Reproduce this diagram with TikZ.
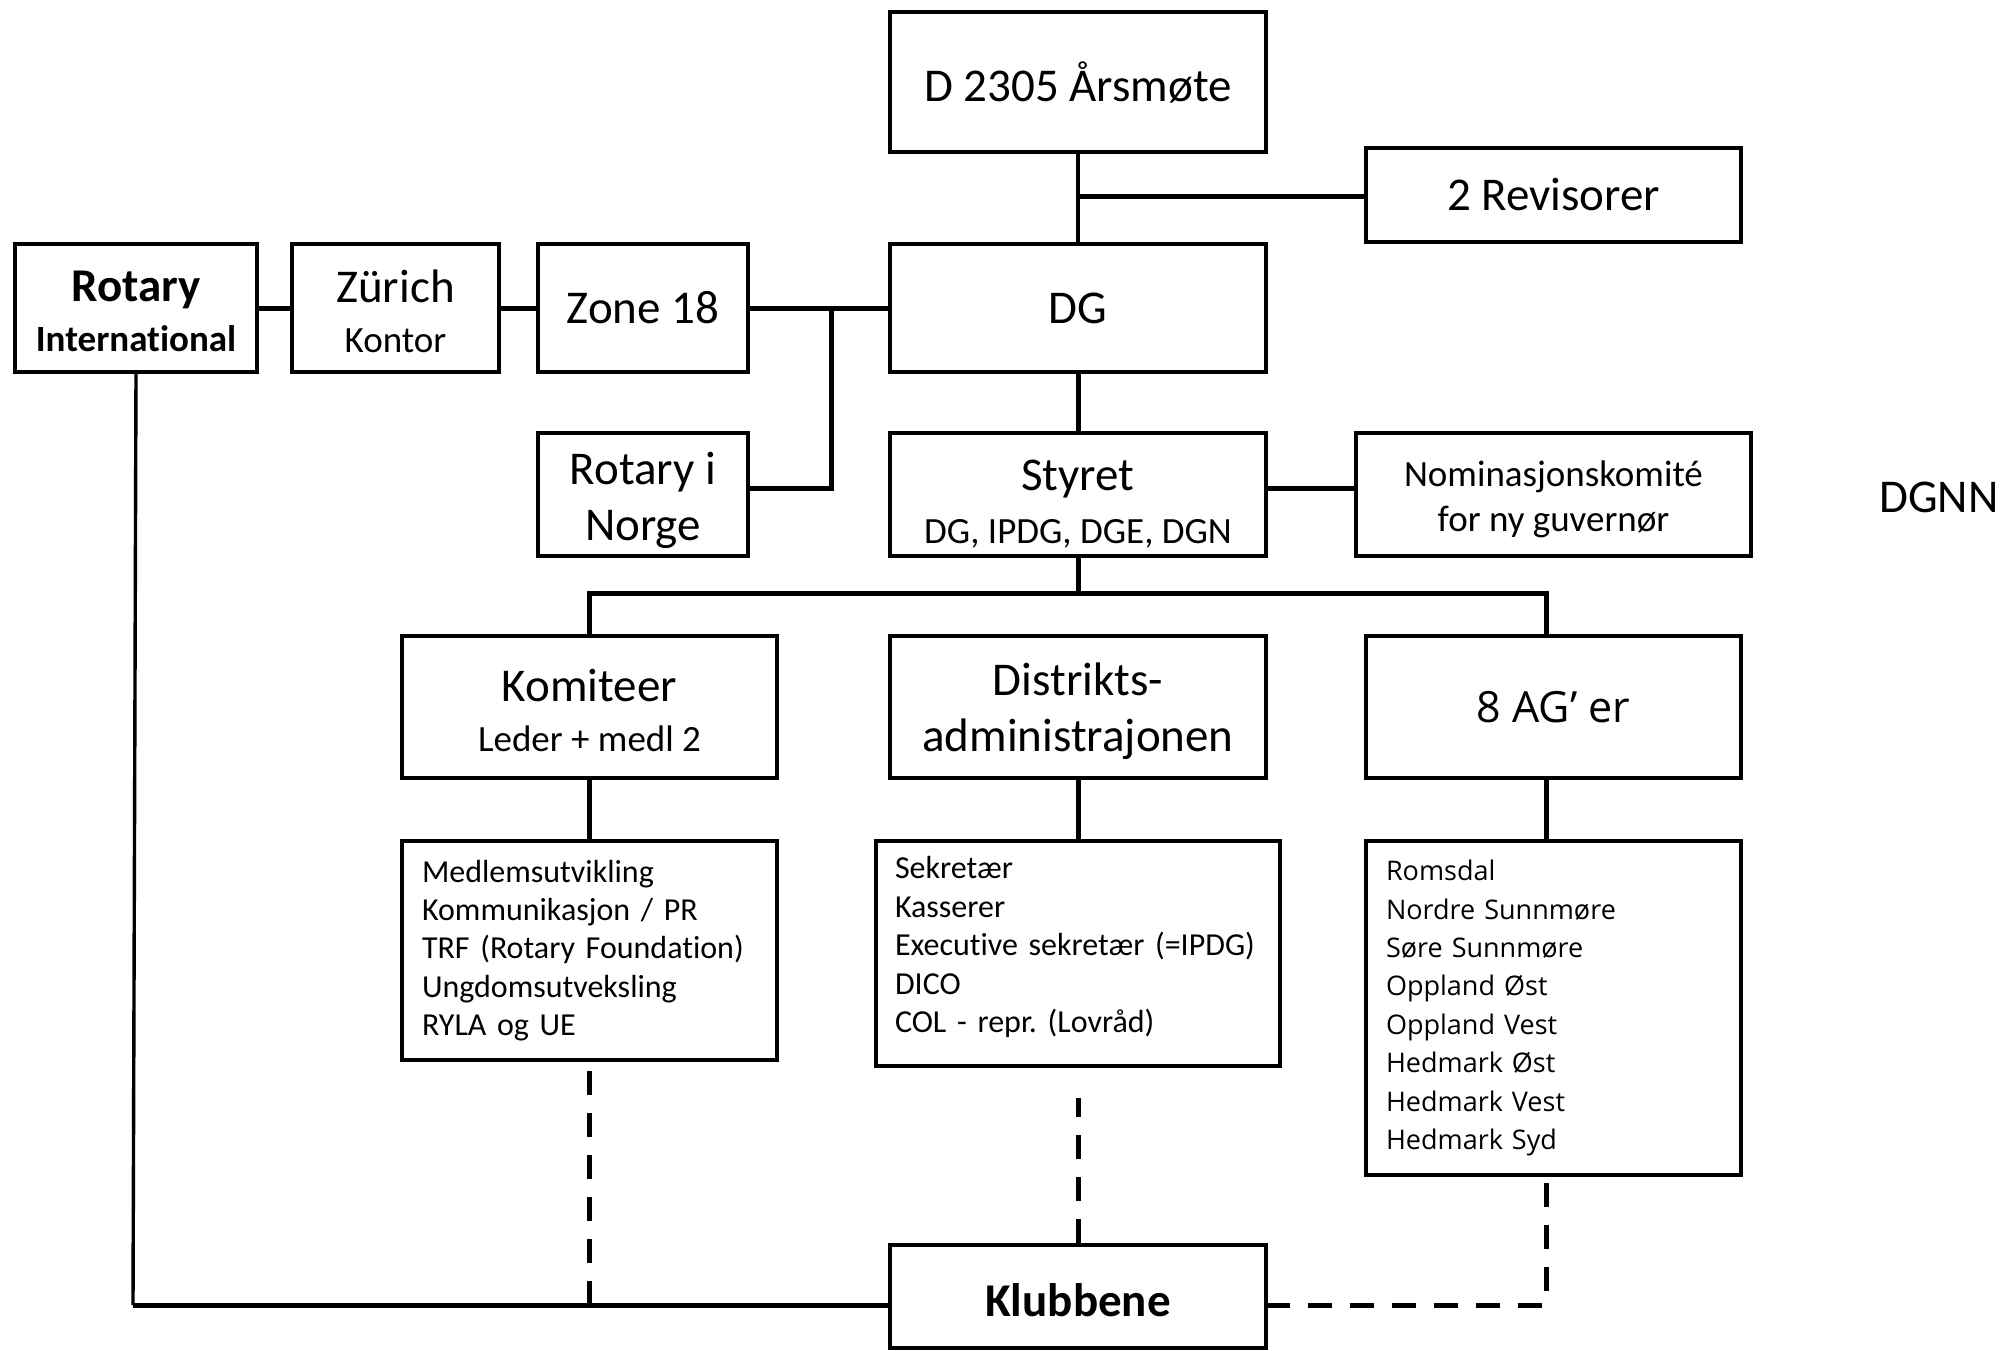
\documentclass[tikz,border=0pt]{standalone}
\usepackage{fontspec}
\setmainfont[Ligatures=NoCommon]{Carlito}
\newfontfamily\segoe{Open Sans}
\newcommand\fbig{\fontsize{47}{56}\selectfont}
\newcommand\fsmall{\fontsize{37}{45}\selectfont}
\newcommand\flist{\fontsize{32}{38.4}\selectfont}
\newcommand\strt[1]{\rule{0pt}{#1pt}}
\frenchspacing
\begin{document}
\begin{tikzpicture}[x=1pt,y=-1pt,
  box/.style={draw, line width=3.4pt, inner sep=0pt, align=center},
  listbox/.style={draw, line width=3.4pt, inner ysep=0pt, inner xsep=20pt, align=left},
  conn/.style={line width=5pt},
  thinconn/.style={line width=3.4pt},
  dconn/.style={line width=5pt, dash pattern=on 24pt off 18pt}
]
\useasboundingbox (0,0) rectangle (2007,1351);

% top row
\node[box, minimum width=376, minimum height=140, font=\fbig] (ars) at (1078,82) {D 2305 Årsmøte};
\node[box, minimum width=375, minimum height=94, font=\fbig] (rev) at (1553.5,195) {2 Revisorer};
\node[box, minimum width=376, minimum height=128, font=\fbig] (dg) at (1078,308) {DG};
\node[box, minimum width=242, minimum height=128, font=\fontsize{37}{50}\selectfont\bfseries] (ri) at (136,308)
  {{\fontsize{47}{50}\selectfont\strt{38}Rotary}\\International};
\node[box, minimum width=207, minimum height=128, font=\fontsize{37}{50}\selectfont] (zur) at (395.5,308)
  {{\fontsize{47}{50}\selectfont\strt{40}Zürich}\\Kontor};
\node[box, minimum width=210, minimum height=128, font=\fbig] (zone) at (643,308) {Zone 18};
\node[box, minimum width=210, minimum height=123, font=\fbig] (rin) at (643,494.5) {\strt{44}Rotary i\\Norge};
\node[box, minimum width=376, minimum height=123, font=\fontsize{37}{53}\selectfont] (sty) at (1078,494.5)
  {{\fontsize{47}{53}\selectfont\strt{50}Styret}\\DG, IPDG, DGE, DGN};
\node[box, minimum width=395, minimum height=123, font=\fsmall] (nom) at (1553.5,494.5)
  {\strt{36}Nominasjonskomité\\for ny guvernør};
\node[font=\fbig, inner sep=0pt] (dgnn) at (1939,497) {DGNN};

% second row
\node[box, minimum width=375, minimum height=142, font=\fontsize{37}{50}\selectfont] (kom) at (589.5,707)
  {{\fontsize{47}{50}\selectfont\strt{40}Komiteer}\\Leder + medl 2};
\node[box, minimum width=376, minimum height=142, font=\fbig] (dist) at (1078,707)
  {\strt{42}Distrikts-\\administrajonen};
\node[box, minimum width=375, minimum height=142, font=\segoe\fontsize{43}{50}\selectfont] (ag) at (1553.5,707)
  {8 AG’ er};

% lists
\node[listbox, text width=335, minimum height=219, font=\flist] (koml) at (589.5,950.5)
  {Medlemsutvikling\\Kommunikasjon / PR\\TRF (Rotary Foundation)\\Ungdomsutveksling\\RYLA og UE};
\node[listbox, inner xsep=19pt, text width=366, minimum height=225, font=\flist] (distl) at (1078,953.5)
  {Sekretær\\Kasserer\\Executive sekretær (=IPDG)\\DICO\\COL - repr. (Lovråd)\rule[-18pt]{0pt}{18pt}};
\node[listbox, text width=335, minimum height=334, font=\segoe\fontsize{27}{38.4}\selectfont] (agl) at (1553.5,1008)
  {Romsdal\\Nordre Sunnmøre\\Søre Sunnmøre\\Oppland Øst\\Oppland Vest\\Hedmark Øst\\Hedmark Vest\\Hedmark Syd};

\node[box, minimum width=376, minimum height=103, font=\fbig\bfseries] (klub) at (1078,1296.5) {\strt{41}Klubbene};

% helper coordinates
\coordinate (j) at (831,308);
\coordinate (bus) at (1078,593);
\coordinate (kb) at (133,1305);
\coordinate (agx) at (1546,707);

% connectors
\draw[thinconn] (ars.south) -- (dg.north);
\draw[conn] ([yshift=-2pt]rev.west) -- ([yshift=-2pt]rev.west -| ars.south);
\draw[conn] (ri.east) -- (zur.west);
\draw[conn] (zur.east) -- (zone.west);
\draw[conn] (zone.east) -- (dg.west);
\draw[conn] ([yshift=6pt]rin.east) -- ([yshift=6pt]rin.east -| j) -- (j);
\draw[conn] (dg.south) -- (sty.north);
\draw[conn] ([yshift=6pt]sty.east) -- ([yshift=6pt]nom.west);
\draw[conn] (sty.south) -- (bus);
\draw[conn] (kom.north) -- (kom.north |- bus) -- (agx |- bus) -- (agx |- ag.north);
\draw[conn] (kom.south) -- (koml.north);
\draw[conn] (dist.south) -- (distl.north);
\draw[conn] (agx |- ag.south) -- (agx |- agl.north);

\draw[thinconn] (ri.south) -- (kb);
\draw[conn] (kb) -- (kb -| klub.west);
\draw[dconn] (kb -| koml.south) -- (koml.south);
\draw[dconn] (klub.north) -- ([yshift=-30pt]distl.south);
\draw[dconn, dash phase=36pt] (agx |- agl.south) -- (agx |- kb) -- (kb -| klub.east);
\end{tikzpicture}
\end{document}
